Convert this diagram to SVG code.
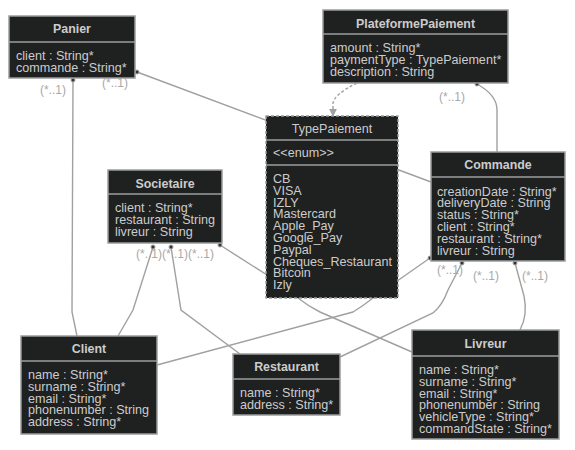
<svg xmlns="http://www.w3.org/2000/svg" width="575" height="450" viewBox="0 0 575 450">
<defs>
<style>
.box{fill:#1f2020;stroke:#9c9c9c;stroke-width:1.5}
.dash{stroke-dasharray:3,2}
.div{stroke:#9c9c9c;stroke-width:1.5}
.t{font-family:"Liberation Sans",Arial,sans-serif;font-size:12.6px;fill:#cccccc}
.title{font-weight:bold;text-anchor:middle;font-size:12.4px}
.mid{text-anchor:middle}
.e{fill:none;stroke:#a0a0a0;stroke-width:1.4}
.lbl{font-family:"Liberation Sans",Arial,sans-serif;font-size:12px;fill:#a8a8a8}
</style>
<marker id="dot" viewBox="0 0 6 6" refX="3" refY="3" markerWidth="6" markerHeight="6" markerUnits="userSpaceOnUse">
<circle cx="3" cy="3" r="2" fill="#333" stroke="#a0a0a0" stroke-width="1"/>
</marker>
<marker id="arr" viewBox="0 0 10 10" refX="9" refY="5" markerWidth="8" markerHeight="8" markerUnits="userSpaceOnUse" orient="auto">
<path d="M0,0 L10,5 L0,10 z" fill="#a0a0a0"/>
</marker>
</defs>
<rect width="575" height="450" fill="#ffffff"/>
<g id="connectors">
<path class="e" d="M137,72 L431,182" marker-start="url(#dot)"/>
<path class="e" d="M73,80 L72,312 L77,336" marker-start="url(#dot)"/>
<path class="e dash" d="M357,83 Q333,95 333,104 L333,116" marker-end="url(#arr)"/>
<path class="e" d="M477,84 Q497,95 497,110 L497,152" marker-start="url(#dot)"/>
<path class="e" d="M153,247 L133,310 L118,336" marker-start="url(#dot)"/>
<path class="e" d="M171,247 L181,310 L240,354" marker-start="url(#dot)"/>
<path class="e" d="M220,245 L267,275 L298,298 Q308,306 320,312 L412,352" marker-start="url(#dot)"/>
<path class="e" d="M430,258 L400,279 L373,298 Q363,306 353,312 L157,365" marker-start="url(#dot)"/>
<path class="e" d="M462,263 L448,290 Q442,306 433,313 L340,357" marker-start="url(#dot)"/>
<path class="e" d="M515,263 L524,296 Q528,315 520,330" marker-start="url(#dot)"/>
</g>
<g id="labels">
<text class="lbl" x="40" y="94">(*..1)</text>
<text class="lbl" x="102" y="87">(*..1)</text>
<text class="lbl" x="439" y="101">(*..1)</text>
<text class="lbl" x="136" y="258">(*..1)</text>
<text class="lbl" x="162" y="258">(*..1)</text>
<text class="lbl" x="188" y="258">(*..1)</text>
<text class="lbl" x="437" y="274">(*..1)</text>
<text class="lbl" x="473" y="280">(*..1)</text>
<text class="lbl" x="522" y="280">(*..1)</text>
</g>
<g id="Panier">
<rect class="box" x="9" y="16" width="126" height="62"/>
<line class="div" x1="9" y1="42" x2="135" y2="42"/>
<text class="t title" x="72" y="33">Panier</text>
<text class="t" x="16" y="60">client : String*</text>
<text class="t" x="16" y="71.8">commande : String*</text>
</g>
<g id="PlateformePaiement">
<rect class="box" x="323" y="10" width="185" height="73"/>
<line class="div" x1="323" y1="34" x2="508" y2="34"/>
<text class="t title" x="415.5" y="27.5">PlateformePaiement</text>
<text class="t" x="330" y="52">amount : String*</text>
<text class="t" x="330" y="63.8">paymentType : TypePaiement*</text>
<text class="t" x="330" y="75.6">description : String</text>
</g>
<g id="TypePaiement">
<rect class="box dash" x="266" y="116" width="132" height="182"/>
<line class="div" x1="266" y1="140" x2="398" y2="140"/>
<line class="div" x1="266" y1="165" x2="398" y2="165"/>
<text class="t mid" x="332" y="133">TypePaiement</text>
<text class="t" x="273" y="157">&lt;&lt;enum&gt;&gt;</text>
<text class="t" x="273" y="183">CB</text>
<text class="t" x="273" y="194.8">VISA</text>
<text class="t" x="273" y="206.6">IZLY</text>
<text class="t" x="273" y="218.4">Mastercard</text>
<text class="t" x="273" y="230.2">Apple_Pay</text>
<text class="t" x="273" y="242">Google_Pay</text>
<text class="t" x="273" y="253.8">Paypal</text>
<text class="t" x="273" y="265.6">Cheques_Restaurant</text>
<text class="t" x="273" y="277.4">Bitcoin</text>
<text class="t" x="273" y="289.2">Izly</text>
</g>
<g id="Commande">
<rect class="box" x="431" y="152" width="134" height="109"/>
<line class="div" x1="431" y1="177" x2="565" y2="177"/>
<text class="t title" x="498" y="169">Commande</text>
<text class="t" x="437" y="195.5">creationDate : String*</text>
<text class="t" x="437" y="207.3">deliveryDate : String</text>
<text class="t" x="437" y="219.1">status : String*</text>
<text class="t" x="437" y="230.9">client : String*</text>
<text class="t" x="437" y="242.7">restaurant : String*</text>
<text class="t" x="437" y="254.5">livreur : String</text>
</g>
<g id="Societaire">
<rect class="box" x="108" y="170" width="114" height="73"/>
<line class="div" x1="108" y1="194" x2="222" y2="194"/>
<text class="t title" x="165" y="188">Societaire</text>
<text class="t" x="115" y="212">client : String*</text>
<text class="t" x="115" y="223.8">restaurant : String</text>
<text class="t" x="115" y="235.6">livreur : String</text>
</g>
<g id="Client">
<rect class="box" x="21" y="336" width="136" height="98"/>
<line class="div" x1="21" y1="361" x2="157" y2="361"/>
<text class="t title" x="89" y="353">Client</text>
<text class="t" x="28" y="379">name : String*</text>
<text class="t" x="28" y="390.8">surname : String*</text>
<text class="t" x="28" y="402.6">email : String*</text>
<text class="t" x="28" y="414.4">phonenumber : String</text>
<text class="t" x="28" y="426.2">address : String*</text>
</g>
<g id="Restaurant">
<rect class="box" x="233" y="354" width="107" height="61"/>
<line class="div" x1="233" y1="379" x2="340" y2="379"/>
<text class="t title" x="286.5" y="371">Restaurant</text>
<text class="t" x="240" y="397">name : String*</text>
<text class="t" x="240" y="408.8">address : String*</text>
</g>
<g id="Livreur">
<rect class="box" x="412" y="330" width="147" height="109"/>
<line class="div" x1="412" y1="356" x2="559" y2="356"/>
<text class="t title" x="485.5" y="348">Livreur</text>
<text class="t" x="419" y="374">name : String*</text>
<text class="t" x="419" y="385.8">surname : String*</text>
<text class="t" x="419" y="397.6">email : String*</text>
<text class="t" x="419" y="409.4">phonenumber : String</text>
<text class="t" x="419" y="421.2">vehicleType : String*</text>
<text class="t" x="419" y="433">commandState : String*</text>
</g>
</svg>
